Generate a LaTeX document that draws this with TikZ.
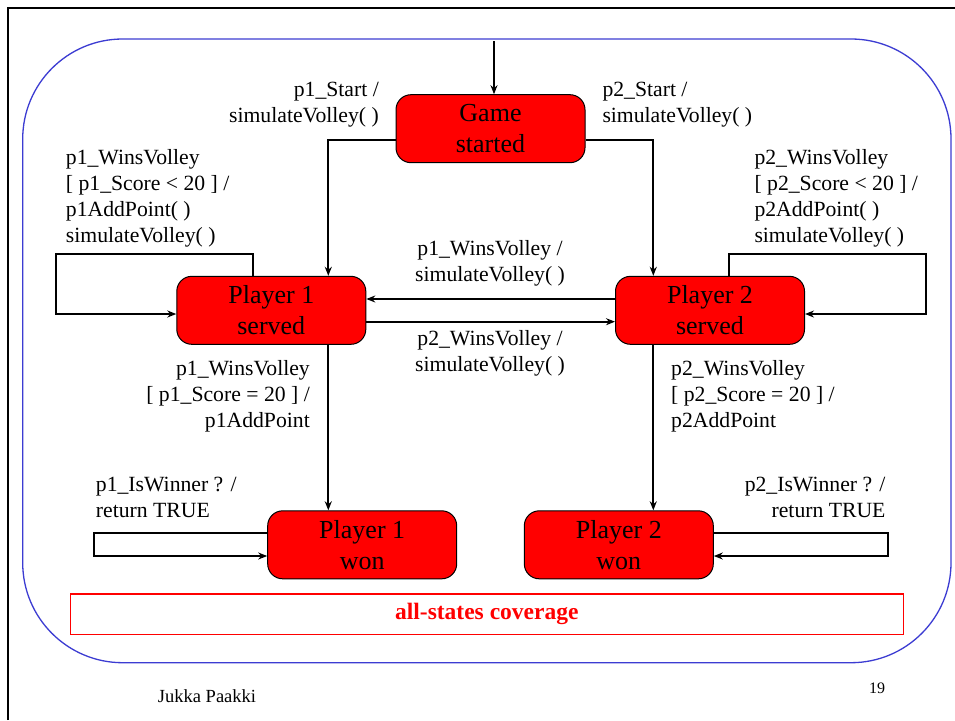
\documentclass[tikz,border=0pt]{standalone}
\usepackage{fontspec}
\setmainfont{Liberation Serif}
\usetikzlibrary{arrows.meta,calc}
\definecolor{frameblue}{RGB}{60,60,210}
\begin{document}
\begin{tikzpicture}[x=1pt,y=-1pt,
  state/.style={draw=black, line width=1pt, fill=red, rounded corners=15pt, inner sep=0pt, align=center,
    minimum width=189pt, minimum height=68pt, font=\fontsize{26}{31}\selectfont},
  lbl/.style={inner sep=0pt, font=\fontsize{21.7}{26}\selectfont},
  conn/.style={draw=black, line width=1.8pt, -{Stealth[length=9pt,width=7pt]}},
  ]
\useasboundingbox (0,0) rectangle (955,720);
\fill[white] (0,0) rectangle (955,720);
\draw[line width=2.5pt] (8,720) -- (8,8) -- (955,8);
\draw[frameblue, line width=1.3pt, rounded corners=100pt] (22.7,39) rectangle (951,662.7);

% states
\node[state] (gs) at (490.5,128.7) {Game\\started};
\node[state] (p1s) at (271.3,310.3) {Player 1\\served};
\node[state] (p2s) at (710,310.3) {Player 2\\served};
\node[state] (p1w) at (362.2,544.8) {Player 1\\won};
\node[state] (p2w) at (618.8,544.8) {Player 2\\won};

% coverage box
\node[draw=red, line width=1.5pt, minimum width=833pt, minimum height=40.3pt, inner sep=0pt,
  text=red, font=\fontsize{23.5}{26}\selectfont\bfseries] (cov) at (486.8,614.2) {all-states coverage};

% initial
\coordinate (init) at (494,41);
\draw[conn] (init) -- (gs.north -| init);

% start transitions
\draw[conn] ($(gs.west)+(0,11.3)$) -| ($(p1s.north)+(57,0)$);
\draw[conn] ($(gs.east)+(0,11.3)$) -| ($(p2s.north)+(-56.7,0)$);

% self loops on served
\coordinate (l1) at (56,254);
\coordinate (r1) at (925.7,254);
\draw[conn] ($(p1s.north)+(-18.6,0)$) |- (l1) |- ($(p1s.west)+(0,3.7)$);
\draw[conn] ($(p2s.north)+(19,0)$) |- (r1) |- ($(p2s.east)+(0,3.7)$);

% between served
\draw[conn] ($(p2s.west)+(0,-11.3)$) -- ($(p1s.east)+(0,-11.3)$);
\draw[conn] ($(p1s.east)+(0,11.4)$) -- ($(p2s.west)+(0,11.4)$);

% to won
\draw[conn] ($(p1s.south)+(57,0)$) -- ($(p1w.north)+(-33.9,0)$);
\draw[conn] ($(p2s.south)+(-56.7,0)$) -- ($(p2w.north)+(34.5,0)$);

% won loops
\coordinate (l2) at (94,545);
\coordinate (r2) at (887.7,545);
\draw[conn] ($(p1w.west)+(0,-11.5)$) -| (l2) |- ($(p1w.west)+(0,11.2)$);
\draw[conn] ($(p2w.east)+(0,-11.5)$) -| (r2) |- ($(p2w.east)+(0,11.2)$);

% labels
\node[lbl, align=right, anchor=east] (t1) at (379,104.5) {p1\_Start /\\simulateVolley( )};
\node[lbl, align=left, anchor=west] (t2) at (602.3,104.5) {p2\_Start /\\simulateVolley( )};
\node[lbl, align=left, anchor=west] (t3) at (65.7,198) {p1\_WinsVolley\\{}[ p1\_Score < 20 ] /\\p1AddPoint( )\\simulateVolley( )};
\node[lbl, align=left, anchor=west] (t4) at (754.3,198) {p2\_WinsVolley\\{}[ p2\_Score < 20 ] /\\p2AddPoint( )\\simulateVolley( )};
\node[lbl, align=center] (t5) at (490,263) {p1\_WinsVolley /\\simulateVolley( )};
\node[lbl, align=center] (t6) at (490,353.5) {p2\_WinsVolley /\\simulateVolley( )};
\node[lbl, align=right, anchor=east] (t7) at (310,396.7) {p1\_WinsVolley\\{}[ p1\_Score = 20 ] /\\p1AddPoint};
\node[lbl, align=left, anchor=west] (t8) at (671,396.7) {p2\_WinsVolley\\{}[ p2\_Score = 20 ] /\\p2AddPoint};
\node[lbl, align=left, anchor=west] (t9) at (95.7,497.5) {p1\_IsWinner ? /\\return TRUE};
\node[lbl, align=right, anchor=east] (t10) at (885.7,497.5) {p2\_IsWinner ? /\\return TRUE};

% footer
\node[inner sep=0pt, font=\fontsize{18.5}{20}\selectfont] (auth) at (207,696) {Jukka Paakki};
\node[inner sep=0pt, font=\fontsize{16}{18}\selectfont] (pg) at (877,688) {19};
\end{tikzpicture}
\end{document}
